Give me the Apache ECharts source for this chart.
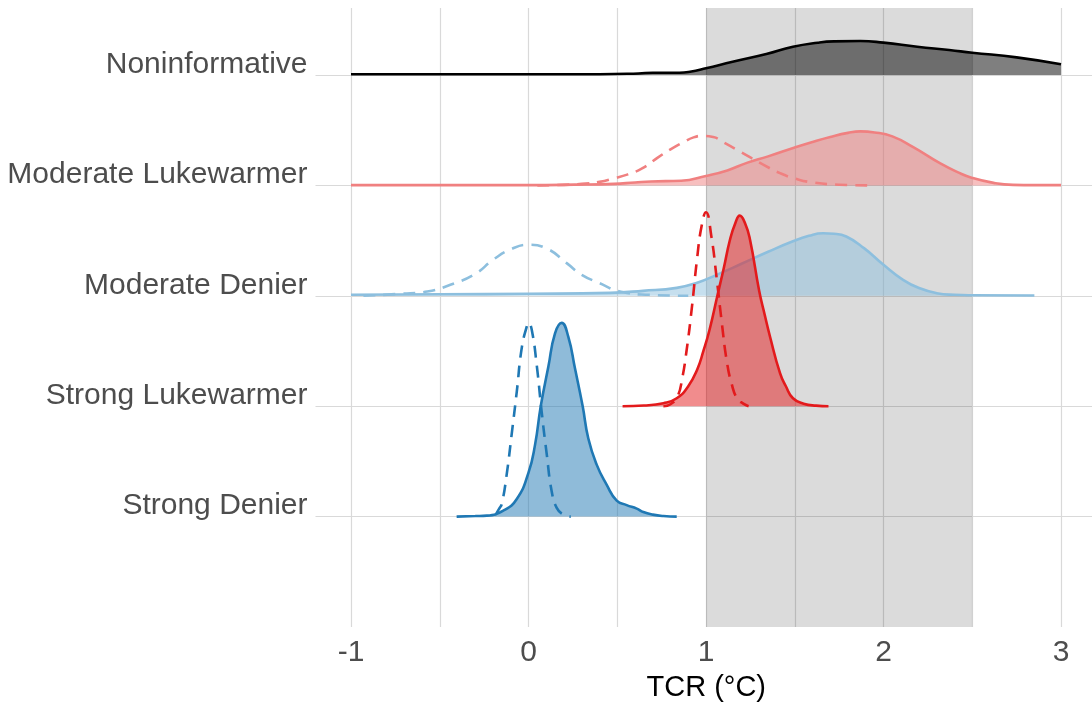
<!DOCTYPE html>
<html>
<head>
<meta charset="utf-8">
<script src="https://cdn.jsdelivr.net/npm/echarts@6/dist/echarts.min.js"></script>
<style>html,body{margin:0;padding:0;background:#fff}#c{width:1092px;height:709px}</style>
</head>
<body>
<div id="c"></div>
<script>
// Row labels, bottom to top (baseline 1..5)
const rowLabels = ['Strong Denier', 'Strong Lukewarmer', 'Moderate Denier', 'Moderate Lukewarmer', 'Noninformative'];
const xTickLabels = [-1, 0, 1, 2, 3];
const xGridValues = [-1, -0.5, 0, 0.5, 1, 1.5, 2, 2.5, 3];
const bandRange = [1, 2.5];

// Noninformative (posterior only)
const nonX = [-1, 0.4, 0.62, 0.70, 0.85, 0.91, 1.0, 1.15, 1.34, 1.49, 1.63, 1.72, 1.87, 2.0, 2.19, 2.37, 2.5, 2.75, 3.0];
const nonD = [0.007, 0.007, 0.014, 0.021, 0.021, 0.030, 0.061, 0.120, 0.190, 0.256, 0.293, 0.305, 0.308, 0.293, 0.256, 0.226, 0.202, 0.160, 0.097];

// Moderate Lukewarmer
const mlPostX = [-1, 0, 0.26, 0.48, 0.6, 0.69, 0.86, 1.0, 1.12, 1.23, 1.35, 1.5, 1.6, 1.7, 1.8, 1.87, 1.95, 2.05, 2.17, 2.32, 2.42, 2.5, 2.62, 2.73, 2.85, 3.0];
const mlPostD = [0.003, 0.003, 0.007, 0.014, 0.027, 0.036, 0.042, 0.086, 0.136, 0.204, 0.263, 0.344, 0.394, 0.439, 0.476, 0.489, 0.480, 0.444, 0.344, 0.199, 0.118, 0.068, 0.023, 0.005, 0.003, 0.003];
const mlPriorX = [0.05, 0.2, 0.3, 0.4, 0.48, 0.56, 0.64, 0.73, 0.8, 0.87, 0.93, 0.98, 1.04, 1.1, 1.2, 1.33, 1.42, 1.5, 1.6, 1.75, 1.92];
const mlPriorD = [0, 0.005, 0.014, 0.032, 0.063, 0.100, 0.154, 0.254, 0.326, 0.389, 0.435, 0.448, 0.439, 0.389, 0.299, 0.181, 0.109, 0.063, 0.027, 0.006, 0];

// Moderate Denier
const mdPostX = [-1.0, -0.5, 0.0, 0.46, 0.645, 0.835, 0.95, 1.06, 1.2, 1.35, 1.49, 1.58, 1.66, 1.72, 1.79, 1.89, 2.0, 2.11, 2.2, 2.3, 2.4, 2.5, 2.85];
const mdPostD = [0.009, 0.014, 0.018, 0.027, 0.045, 0.072, 0.118, 0.190, 0.290, 0.399, 0.494, 0.543, 0.566, 0.562, 0.537, 0.432, 0.281, 0.145, 0.070, 0.024, 0.009, 0.005, 0.003];
const mdPriorX = [-0.93, -0.72, -0.57, -0.44, -0.3, -0.2, -0.1, 0, 0.1, 0.215, 0.3, 0.4, 0.515, 0.68, 0.9];
const mdPriorD = [0, 0.018, 0.039, 0.100, 0.199, 0.326, 0.421, 0.462, 0.430, 0.296, 0.190, 0.115, 0.039, 0.009, 0];

// Strong Lukewarmer
const slPostX = [0.53, 0.65, 0.76, 0.835, 0.9, 0.95, 0.985, 1.02, 1.064, 1.1, 1.135, 1.165, 1.19, 1.22, 1.248, 1.30, 1.33, 1.36, 1.417, 1.45, 1.49, 1.55, 1.62, 1.69];
const slPostD = [0, 0.006, 0.027, 0.072, 0.181, 0.331, 0.498, 0.693, 1.001, 1.250, 1.508, 1.658, 1.726, 1.658, 1.508, 1.042, 0.833, 0.634, 0.299, 0.181, 0.072, 0.023, 0.005, 0];
const slPriorX = [0.76, 0.80, 0.84, 0.865, 0.89, 0.92, 0.95, 0.975, 1.0, 1.03, 1.06, 1.09, 1.117, 1.145, 1.175, 1.21, 1.24];
const slPriorD = [0, 0.018, 0.091, 0.245, 0.498, 0.888, 1.341, 1.630, 1.757, 1.540, 1.159, 0.743, 0.408, 0.199, 0.072, 0.023, 0];

// Strong Denier
const sdPostX = [-0.405, -0.3, -0.235, -0.142, -0.066, 0.0, 0.037, 0.069, 0.112, 0.149, 0.187, 0.224, 0.262, 0.305, 0.337, 0.384, 0.44, 0.497, 0.553, 0.61, 0.647, 0.70, 0.76, 0.835];
const sdPostD = [0, 0.005, 0.009, 0.054, 0.159, 0.399, 0.652, 1.001, 1.359, 1.658, 1.755, 1.630, 1.341, 1.001, 0.707, 0.471, 0.290, 0.145, 0.104, 0.072, 0.041, 0.018, 0.005, 0];
const sdPriorX = [-0.185, -0.165, -0.15, -0.123, -0.095, -0.066, -0.038, -0.01, 0.0, 0.018, 0.046, 0.074, 0.103, 0.131, 0.159, 0.196, 0.238];
const sdPriorD = [0.018, 0.072, 0.118, 0.380, 0.743, 1.132, 1.528, 1.721, 1.755, 1.694, 1.377, 0.951, 0.562, 0.226, 0.079, 0.018, 0];

const FONT = '"Liberation Sans", Arial, Helvetica, sans-serif';

function ridge(xs, ds, base, color, fill, dashed, z) {
  const s = {
    type: 'line',
    data: xs.map((x, i) => [x, base + ds[i]]),
    smooth: 0.5,
    symbol: 'none',
    showSymbol: false,
    silent: true,
    z: z,
    lineStyle: { color: color, width: 2.6, type: dashed ? [12, 8] : 'solid', cap: 'butt', join: 'round' }
  };
  if (fill) s.areaStyle = { color: fill, opacity: 1, origin: base };
  return s;
}

const series = [
  {
    type: 'line', data: [], silent: true, z: 0,
    markLine: {
      silent: true, z: 0, symbol: ['none', 'none'], label: { show: false },
      lineStyle: { color: '#d9d9d9', width: 1.2, type: 'solid' },
      emphasis: { disabled: true },
      data: xGridValues.map(v => ({ xAxis: v })).concat(rowLabels.map((_, i) => ({ yAxis: i + 1 })))
    },
    markArea: {
      silent: true, z: 1,
      itemStyle: { color: 'rgba(0,0,0,0.14)' },
      emphasis: { disabled: true },
      data: [[{ xAxis: bandRange[0] }, { xAxis: bandRange[1] }]]
    }
  },
  ridge(nonX, nonD, 5, '#000000', 'rgba(0,0,0,0.5)', false, 2),
  ridge(mlPostX, mlPostD, 4, '#F08080', 'rgba(240,128,128,0.5)', false, 4),
  ridge(mlPriorX, mlPriorD, 4, '#F08080', null, true, 5),
  ridge(mdPostX, mdPostD, 3, '#8DBFDE', 'rgba(141,191,222,0.5)', false, 6),
  ridge(mdPriorX, mdPriorD, 3, '#8DBFDE', null, true, 7),
  ridge(slPostX, slPostD, 2, '#E31A1C', 'rgba(227,26,28,0.5)', false, 8),
  ridge(slPriorX, slPriorD, 2, '#E31A1C', null, true, 9),
  ridge(sdPostX, sdPostD, 1, '#1F78B4', 'rgba(31,120,180,0.5)', false, 10),
  ridge(sdPriorX, sdPriorD, 1, '#1F78B4', null, true, 11)
];

const chart = echarts.init(document.getElementById('c'), null, { renderer: 'canvas' });
chart.setOption({
  animation: false,
  backgroundColor: '#ffffff',
  grid: { left: 315.5, right: 0, top: 8, bottom: 82, containLabel: false },
  xAxis: {
    type: 'value', min: -1.2, max: 3.1746,
    axisLine: { show: false }, axisTick: { show: false }, splitLine: { show: false },
    axisLabel: {
      customValues: xTickLabels, formatter: v => String(v),
      fontSize: 30, color: '#4d4d4d', fontFamily: FONT, margin: 11
    },
    name: 'TCR (°C)', nameLocation: 'middle', nameGap: 46,
    nameTextStyle: { fontSize: 29, color: '#000000', fontFamily: FONT, padding: [0, 0, 0, 5] }
  },
  yAxis: {
    type: 'value', min: 0, max: 5.607,
    axisLine: { show: false }, axisTick: { show: false }, splitLine: { show: false },
    axisLabel: {
      customValues: rowLabels.map((_, i) => i + 1.095),
      formatter: v => rowLabels[Math.round(v) - 1] || '',
      fontSize: 30, color: '#4d4d4d', fontFamily: FONT, margin: 8
    }
  },
  series: series
});
</script>
</body>
</html>
